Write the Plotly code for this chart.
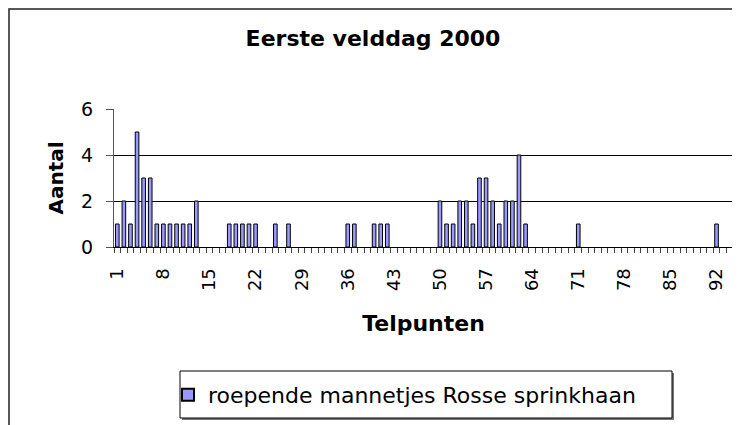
import plotly.graph_objects as go

# Data
telpunten = [1, 2, 3, 4, 5, 6, 7, 8, 9, 10, 11, 12, 13,
             18, 19, 20, 21, 22, 25, 27,
             36, 37, 40, 41, 42,
             50, 51, 52, 53, 54, 55, 56, 57, 58, 59, 60, 61, 62, 63,
             71, 92]
aantal = [1, 2, 1, 5, 3, 3, 1, 1, 1, 1, 1, 1, 2,
          1, 1, 1, 1, 1, 1, 1,
          1, 1, 1, 1, 1,
          2, 1, 1, 2, 2, 1, 3, 3, 2, 1, 2, 2, 4, 1,
          1, 1]
n_categories = 94
tick_labels = [1, 8, 15, 22, 29, 36, 43, 50, 57, 64, 71, 78, 85, 92]
y_ticks = [0, 2, 4, 6]
series_name = "roepende mannetjes Rosse sprinkhaan"
title_text = "Eerste velddag 2000"

# The page places the figure 8px from the window's top-left corner,
# so the figure is sized to fill the rest of the 740x425 window.
OFF = 8
W, H = 740 - OFF, 425 - OFF
# plot area in window pixels
L, R, T, B = 114, 733, 109, 247


def px(x):
    return (x - L) / (R - L)


def py(y):
    return (B - y) / (B - T)


FONT = "DejaVu Sans"

fig = go.Figure()
fig.add_trace(go.Bar(
    x=telpunten, y=aantal, name=series_name,
    marker=dict(color="#9999FF", line=dict(color="black", width=1)),
    showlegend=True,
))

fig.update_layout(
    width=W, height=H,
    margin=dict(l=L - OFF, r=740 - R, t=T - OFF, b=425 - B, pad=0,
                autoexpand=False),
    paper_bgcolor="white", plot_bgcolor="white",
    bargap=0.45,
    showlegend=True,
    title=dict(text="<b>%s</b>" % title_text, x=px(373), xref="paper",
               xanchor="center", y=1 - (38 - OFF) / H, yanchor="middle",
               font=dict(family=FONT, size=22, color="black")),
    font=dict(family=FONT, color="black"),
    legend=dict(x=px(168), y=py(395), xanchor="left", yanchor="middle",
                bgcolor="rgba(0,0,0,0)", borderwidth=0,
                font=dict(family=FONT, size=22, color="black"),
                itemsizing="constant", itemwidth=30),
    xaxis=dict(range=[0.5, n_categories + 0.5], tickmode="array",
               tickvals=tick_labels, ticktext=[str(v) for v in tick_labels],
               tickangle=-90, ticks="", showgrid=False, zeroline=False,
               showline=True, linecolor="black", linewidth=1,
               tickfont=dict(family=FONT, size=18, color="black"),
               ticklabelstandoff=13,
               minor=dict(tickmode="array",
                          tickvals=[i + 0.5 for i in range(n_categories + 1)],
                          ticks="outside", ticklen=5, tickcolor="#444",
                          tickwidth=1, showgrid=False),
               title=dict(text="<b>Telpunten</b>", standoff=25,
                          font=dict(family=FONT, size=22, color="black"))),
    yaxis=dict(range=[0, 6], tickmode="array", tickvals=y_ticks,
               ticks="outside", ticklen=7, tickcolor="#555",
               showgrid=True, gridcolor="black", gridwidth=1,
               zeroline=False, showline=True, linecolor="#555", linewidth=1,
               tickfont=dict(family=FONT, size=19, color="black"),
               ticklabelstandoff=9,
               title=dict(text="<b>Aantal</b>", standoff=12,
                          font=dict(family=FONT, size=20, color="black"))),
    shapes=[
        # legend shadow and box
        dict(type="rect", xref="paper", yref="paper",
             x0=px(182), x1=px(674), y0=py(420), y1=py(373),
             line=dict(width=0), fillcolor="#777", layer="below"),
        dict(type="rect", xref="paper", yref="paper",
             x0=px(180), x1=px(672), y0=py(418), y1=py(371),
             line=dict(color="black", width=1), fillcolor="white",
             layer="below"),
        # chart area border
        dict(type="rect", xref="paper", yref="paper",
             x0=px(9), x1=px(737), y0=py(9), y1=py(440),
             line=dict(color="#222", width=1.5), fillcolor="rgba(0,0,0,0)",
             layer="below"),
    ],
)

fig.write_html("out.html")
